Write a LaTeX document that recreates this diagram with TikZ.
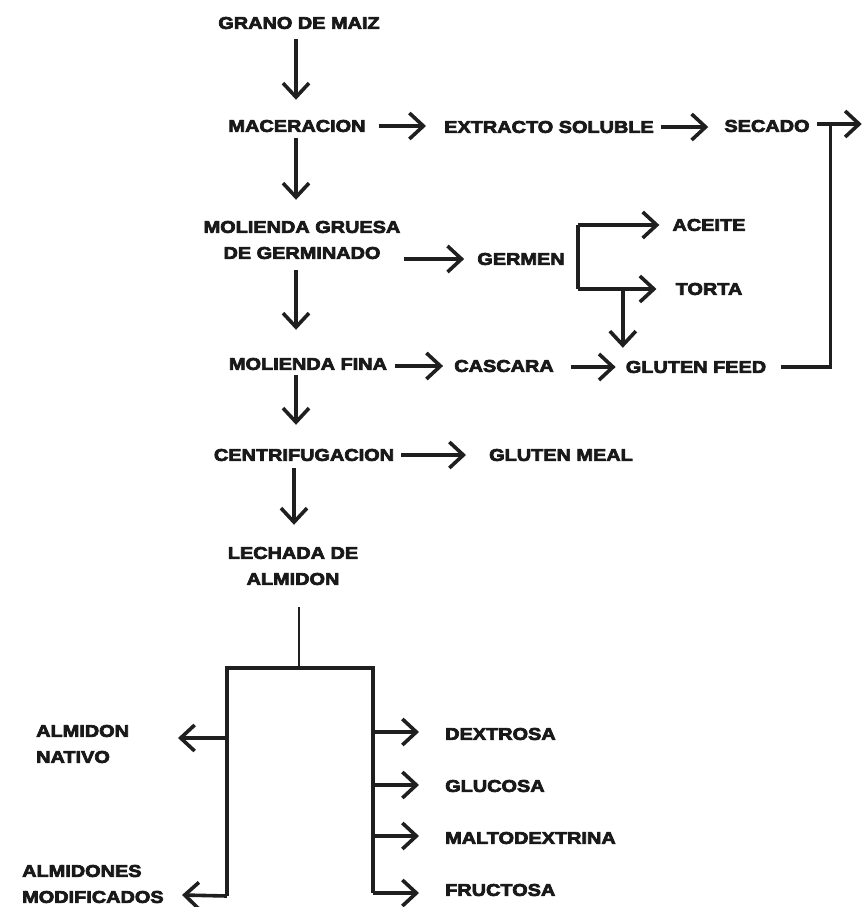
\documentclass[tikz,border=0pt]{standalone}
\usepackage{fontspec}
\newfontfamily\blk{Liberation Sans Bold}[FakeStretch=1.17,FakeBold=4.2]
\usetikzlibrary{arrows.meta,calc}
\tikzset{
  lbl/.style={font=\blk\fontsize{17}{26}\selectfont, inner sep=0pt, align=center, text=black!90},
  lbll/.style={lbl, align=left, anchor=west},
  lblw/.style={lbl, anchor=west},
  ln/.style={line width=3.6pt, draw=black!88},
  arr/.style={ln, -{Straight Barb[length=14pt,width=26pt]}},
  thinln/.style={line width=2pt, draw=black!88}
}
\begin{document}
\begin{tikzpicture}[x=1pt,y=-1pt]
\useasboundingbox (0,0) rectangle (866,907);
% nodes
\node[lbl] (grano) at (299,23) {GRANO DE MAIZ};
\node[lbl] (mac) at (297,126) {MACERACION};
\node[lbl] (ext) at (549,127) {EXTRACTO SOLUBLE};
\node[lbl] (sec) at (767,126) {SECADO};
\node[lbl] (mgr) at (302,240) {MOLIENDA GRUESA\\DE GERMINADO};
\node[lbl] (germ) at (521,259) {GERMEN};
\node[lbl] (ace) at (709,225) {ACEITE};
\node[lbl] (tor) at (709,289) {TORTA};
\node[lbl] (mfin) at (308,364) {MOLIENDA FINA};
\node[lbl] (cas) at (504,366) {CASCARA};
\node[lbl] (gf) at (696,367) {GLUTEN FEED};
\node[lbl] (cen) at (304,455) {CENTRIFUGACION};
\node[lbl] (gm) at (561,455) {GLUTEN MEAL};
\node[lbl] (lech) at (293,566) {LECHADA DE\\ALMIDON};
\node[lbll] (nat) at (36,744) {ALMIDON\\NATIVO};
\node[lbll] (mod) at (22,884) {ALMIDONES\\MODIFICADOS};
\node[lblw] (dex) at (445,734) {DEXTROSA};
\node[lblw] (glu) at (445,786) {GLUCOSA};
\node[lblw] (mal) at (445,838) {MALTODEXTRINA};
\node[lblw] (fru) at (445,890) {FRUCTOSA};
% main vertical chain
\draw[arr] ($(grano.south)+(-3,10)$) -- ($(grano.south|-mac.north)+(-3,-20)$);
\draw[arr] ($(mac.south)+(-1,6)$) -- ($(mac.south|-mgr.north)+(-1,-21)$);
\draw[arr] ($(mgr.south)+(-6,11)$) -- ($(mgr.south|-mfin.north)+(-6,-28)$);
\draw[arr] ($(mfin.south)+(-12,5)$) -- ($(mfin.south|-cen.north)+(-12,-24)$);
\draw[arr] ($(cen.south)+(-10,7)$) -- ($(cen.south|-lech.north)+(-10,-22)$);
% horizontal arrows
\draw[arr] ($(mac.east)+(13,0)$) -- ($(mac.east-|ext.west)+(-18,0)$);
\draw[arr] ($(ext.east)+(7,0)$) -- ($(ext.east-|sec.west)+(-16,0)$);
\coordinate (out) at ($(sec.east)+(52,-2)$);
\draw[arr] ($(sec.east)+(7,-2)$) -- (out);
\draw[arr] ($(mgr.east|-germ)+(3,0)$) -- ($(germ.west)+(-13,0)$);
\draw[arr] ($(mfin.east)+(8,2)$) -- ($(mfin.east-|cas.west)+(-11,2)$);
\draw[arr] ($(cas.east)+(17,1)$) -- ($(cas.east-|gf.west)+(-10,1)$);
\draw[arr] ($(cen.east)+(7,0)$) -- ($(cen.east-|gm.west)+(-23,0)$);
% germen bracket
\coordinate (bt) at ($(germ.east)+(13,-34)$);
\coordinate (bb) at ($(germ.east)+(13,30)$);
\draw[ln] (bt) -- (bb);
\draw[arr] (bt) -- ($(ace.west)+(-13,0)$);
\draw[arr] (bb) -- ($(tor.west)+(-19,0)$);
\coordinate (tv) at ($(bb)+(45,0)$);
\draw[arr] (tv) -- ($(tv|-gf.north)+(0,-13)$);
% gluten feed return line
\coordinate (rc) at ($(gf.east)+(64,0)$);
\draw[ln] ($(gf.east)+(15,0)$) -- (rc) -- (rc|-out);
% starch tree
\coordinate (sp) at (299,668);
\coordinate (lt) at (227,668);
\coordinate (rt) at (373,668);
\coordinate (lb) at (227,896);
\coordinate (rb) at (373,893);
\draw[thinln] ($(lech.south-|sp)+(0,22)$) -- (sp);
\draw[ln] (lb) -- (lt) -- (rt) -- (rb);
\draw[arr] ($(lt|-nat)+(0,-6)$) -- ($(lt|-nat)+(-49,-6)$);
\draw[arr] (lb) -- ($(lb)+(-45,-1)$);
\draw[arr] ($(dex.west-|rt)+(0,-2)$) -- ($(dex.west)+(-26,-2)$);
\draw[arr] ($(glu.west-|rt)+(0,-1)$) -- ($(glu.west)+(-26,-1)$);
\draw[arr] ($(mal.west-|rt)+(0,-2)$) -- ($(mal.west)+(-26,-2)$);
\draw[arr] (rb) -- ($(fru.west)+(-26,3)$);
\end{tikzpicture}
\end{document}
